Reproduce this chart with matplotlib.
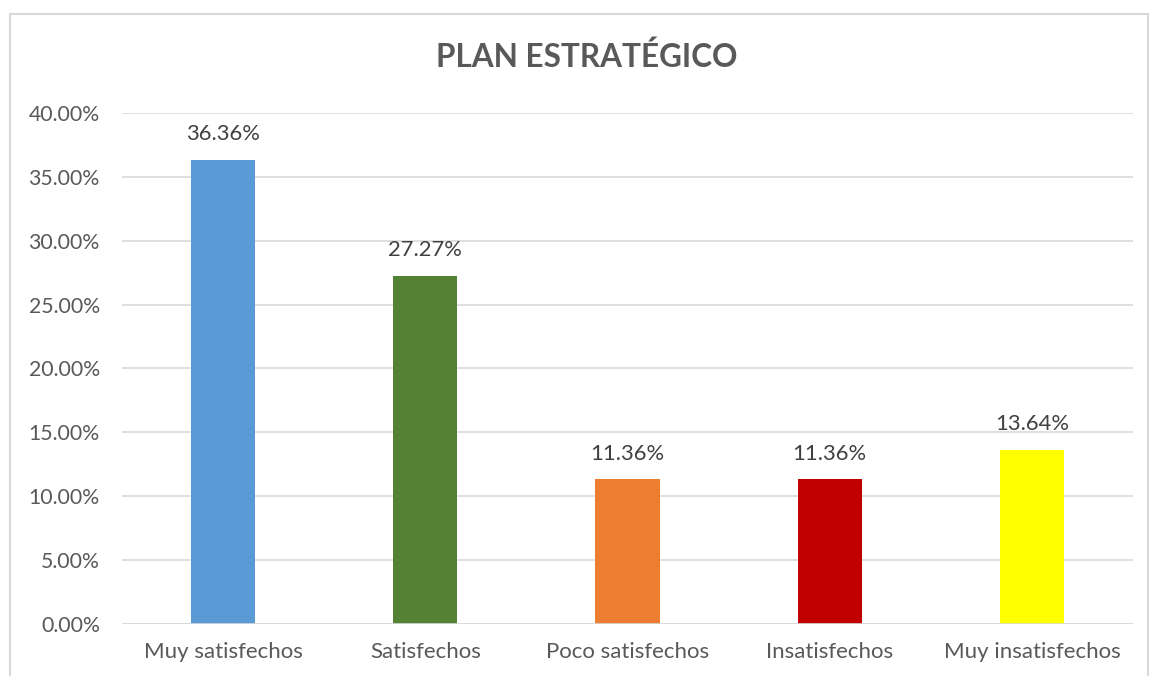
import matplotlib.pyplot as plt
from matplotlib.patches import Rectangle
from matplotlib.ticker import FuncFormatter

# ============================================================
# Data
# ============================================================

categories = ["Muy satisfechos", "Satisfechos", "Poco satisfechos",
              "Insatisfechos", "Muy insatisfechos"]
values = [36.36, 27.27, 11.36, 11.36, 13.64]
bar_colors = ["#5B9BD5", "#548235", "#ED7D31", "#C00000", "#FFFF00"]
y_ticks = [0, 5, 10, 15, 20, 25, 30, 35, 40]

TEXT = "#595959"
LABEL = "#404040"
GRID = "#D9D9D9"

plt.rcParams["font.family"] = ["Lato", "DejaVu Sans"]

# ============================================================
# Plot
# ============================================================

W, H = 1149, 676
fig = plt.figure(figsize=(W / 100, H / 100), dpi=100)
ax = fig.add_axes([122 / W, 1 - 624 / H, (1133 - 122) / W, (624 - 113) / H])

x = range(len(categories))
ax.bar(x, values, width=0.317, color=bar_colors, zorder=3)

for xi, v in zip(x, values):
    ax.text(xi, v + 1.2, f"{v:.2f}%", ha="center", va="bottom",
            fontsize=15.8, color=LABEL)

ax.set_xlim(-0.5, len(categories) - 0.5)
ax.set_ylim(0, 40)
ax.set_yticks(y_ticks)
ax.yaxis.set_major_formatter(FuncFormatter(lambda v, p: f"{v:.2f}%"))
ax.set_xticks(list(x))
ax.set_xticklabels(categories)
ax.tick_params(axis="both", length=0, labelcolor=TEXT)
ax.tick_params(axis="y", pad=16, labelsize=15.3)
ax.tick_params(axis="x", pad=13, labelsize=16)
ax.grid(axis="y", color=GRID, linewidth=1.2, zorder=0)
for s in ax.spines.values():
    s.set_visible(False)
ax.axhline(0, color=GRID, linewidth=1.2, zorder=4)

fig.text(587 / W, 1 - 57 / H, "PLAN ESTRATÉGICO", ha="center", va="center",
         fontsize=22.7, fontweight="bold", color=TEXT)

# chart-area border (bottom edge cut off in the reference)
fig.patches.append(Rectangle((10 / W, -0.05), (1148 - 10) / W, 1 - 14 / H + 0.05,
                             transform=fig.transFigure, fill=False,
                             edgecolor=GRID, linewidth=1.5))

fig.savefig("out.png", dpi=100)
